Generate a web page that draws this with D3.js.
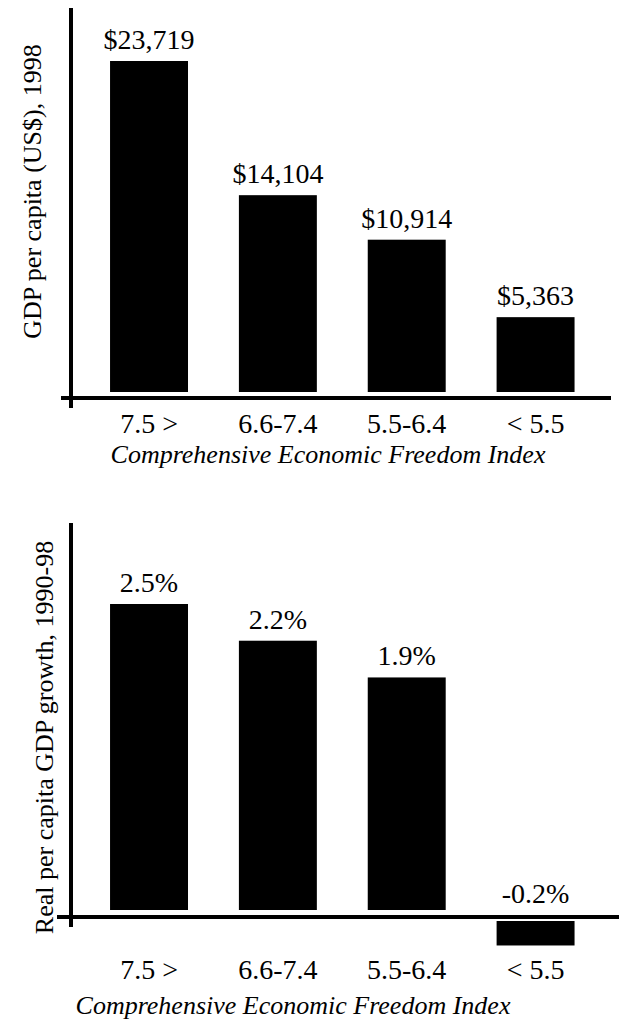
<!DOCTYPE html>
<html>
<head>
<meta charset="utf-8">
<script src="https://cdn.jsdelivr.net/npm/d3@7"></script>
<style>
  body { margin: 0; background: #fff; }
  text { font-family: "Liberation Serif", "Times New Roman", serif; fill: #000; }
</style>
</head>
<body>
<div id="chart"></div>
<script>
// categories of the economic freedom index
const categories = ['7.5 >', '6.6-7.4', '5.5-6.4', '< 5.5'];
// GDP per capita, 1998 (US$)
const gdpValues = [23719, 14104, 10914, 5363];
// real per capita GDP growth, 1990-98 (%)
const growthValues = [2.5, 2.2, 1.9, -0.2];

const xTitle = 'Comprehensive Economic Freedom Index';

const width = 619, height = 1021;

const svg = d3.select('#chart')
  .append('svg')
  .attr('width', width)
  .attr('height', height);

const x = d3.scaleBand()
  .domain(categories)
  .range([84.6, 600])
  .paddingInner(0.395)
  .paddingOuter(0.1975);

function drawPanel(opts) {
  const g = svg.append('g');
  const y = opts.y;
  const base = y(0);
  const data = categories.map((c, i) => ({ cat: c, value: opts.values[i] }));

  // bars (positive above the floor, negative hang below the axis)
  g.selectAll('.bar')
    .data(data)
    .enter()
    .append('rect')
    .attr('class', 'bar')
    .attr('x', d => x(d.cat))
    .attr('width', x.bandwidth())
    .attr('y', d => d.value >= 0 ? y(d.value) : opts.axisY + 4)
    .attr('height', d => Math.abs(y(d.value) - base))
    .attr('fill', '#000');

  // value labels
  g.selectAll('.val')
    .data(data)
    .enter()
    .append('text')
    .attr('class', 'val')
    .attr('x', d => x(d.cat) + x.bandwidth() / 2)
    .attr('y', d => d.value >= 0 ? y(d.value) - 12 : base - 7)
    .attr('text-anchor', 'middle')
    .style('font-size', '28px')
    .text(d => opts.format(d.value));

  // axis lines
  g.append('line')
    .attr('x1', 71).attr('x2', 71)
    .attr('y1', opts.axisTop).attr('y2', opts.axisY + 10)
    .attr('stroke', '#000').attr('stroke-width', 4);
  g.append('line')
    .attr('x1', opts.axisLeft).attr('x2', opts.axisRight)
    .attr('y1', opts.axisY).attr('y2', opts.axisY)
    .attr('stroke', '#000').attr('stroke-width', 4);

  // category labels
  g.selectAll('.tick')
    .data(categories)
    .enter()
    .append('text')
    .attr('class', 'tick')
    .attr('x', d => x(d) + x.bandwidth() / 2)
    .attr('y', opts.tickY)
    .attr('text-anchor', 'middle')
    .style('font-size', '28px')
    .text(d => d);

  // x title
  g.append('text')
    .attr('x', opts.titleX)
    .attr('y', opts.titleY)
    .attr('text-anchor', 'middle')
    .style('font-size', '26px')
    .style('font-style', 'italic')
    .text(xTitle);

  // y title
  g.append('text')
    .attr('transform', `translate(${opts.yTitleX},${opts.yTitleY}) rotate(-90)`)
    .attr('text-anchor', 'middle')
    .style('font-size', '26px')
    .text(opts.yTitle);
}

drawPanel({
  values: gdpValues,
  y: d3.scaleLinear().domain([0, d3.max(gdpValues)]).range([392, 61]),
  format: v => '$' + d3.format(',')(v),
  axisTop: 8, axisY: 398, axisLeft: 61, axisRight: 611,
  tickY: 433,
  titleX: 328, titleY: 463,
  yTitle: 'GDP per capita (US$), 1998', yTitleX: 41, yTitleY: 191.5
});

drawPanel({
  values: growthValues,
  y: d3.scaleLinear().domain([0, d3.max(growthValues)]).range([910, 604]),
  format: v => v.toFixed(1) + '%',
  axisTop: 523, axisY: 917, axisLeft: 57, axisRight: 619,
  tickY: 979,
  titleX: 293, titleY: 1014,
  yTitle: 'Real per capita GDP growth, 1990-98', yTitleX: 53, yTitleY: 737.5
});
</script>
</body>
</html>
